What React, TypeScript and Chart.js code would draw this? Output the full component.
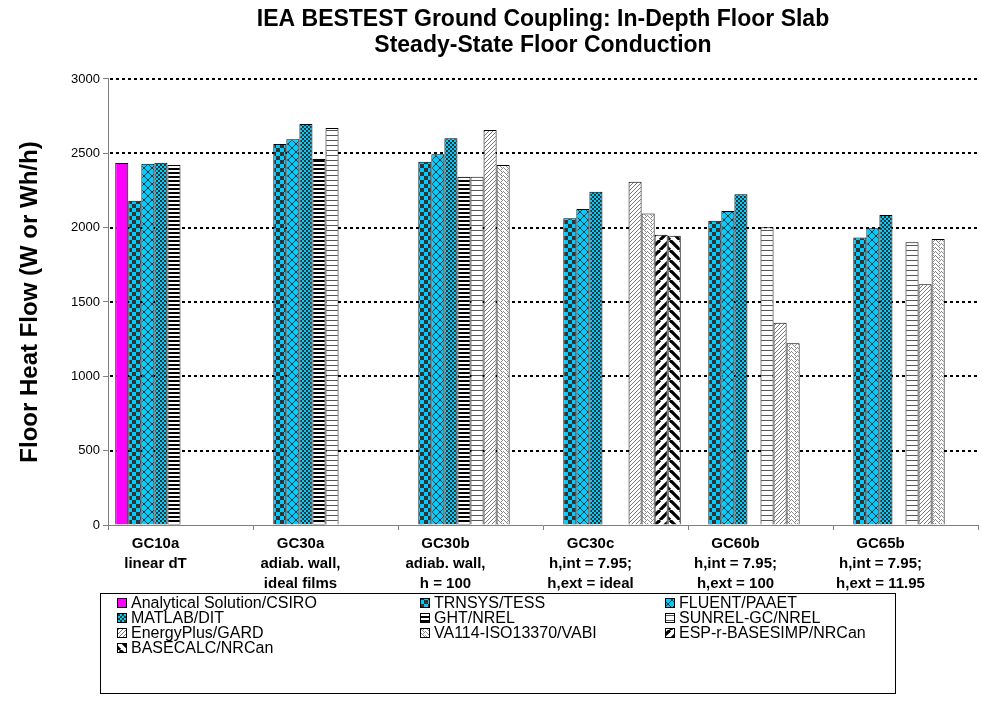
import React, { useEffect, useRef } from 'react';
import { Chart, registerables } from 'chart.js';

Chart.register(...registerables);

const categories: string[][] = [
  ['GC10a', 'linear dT'],
  ['GC30a', 'adiab. wall,', 'ideal films'],
  ['GC30b', 'adiab. wall,', 'h = 100'],
  ['GC30c', 'h,int = 7.95;', 'h,ext = ideal'],
  ['GC60b', 'h,int = 7.95;', 'h,ext = 100'],
  ['GC65b', 'h,int = 7.95;', 'h,ext = 11.95'],
];

const seriesNames = [
  'Analytical Solution/CSIRO',
  'TRNSYS/TESS',
  'FLUENT/PAAET',
  'MATLAB/DIT',
  'GHT/NREL',
  'SUNREL-GC/NREL',
  'EnergyPlus/GARD',
  'VA114-ISO13370/VABI',
  'ESP-r-BASESIMP/NRCan',
  'BASECALC/NRCan',
];

const analytical = [2435, null, null, null, null, null];
const trnsys = [2181, 2563, 2444, 2063, 2047, 1933];
const fluent = [2430, 2594, 2493, 2126, 2112, 1996];
const matlab = [2437, 2697, 2601, 2242, 2224, 2085];
const ght = [2421, 2462, 2343, null, null, null];
const sunrel = [null, 2670, 2343, null, 2002, 1902];
const energyPlus = [null, null, 2657, 2309, 1361, 1619];
const va114 = [null, null, 2421, 2096, 1222, 1924];
const espr = [null, null, null, 1952, null, null];
const basecalc = [null, null, null, 1946, null, null];

const yMin = 0;
const yMax = 3000;
const yStep = 500;

const FONT = "'Liberation Sans', Arial, sans-serif";
const CYAN = '#00CCFF';
const DARK = '#333333';

function makePattern(w: number, h: number, draw: (c: CanvasRenderingContext2D) => void): CanvasPattern | string {
  const cv = document.createElement('canvas');
  cv.width = w;
  cv.height = h;
  const c = cv.getContext('2d')!;
  draw(c);
  const p = c.createPattern(cv, 'repeat');
  return p || '#888';
}

function buildFills(): (CanvasPattern | string)[] {
  const trn = makePattern(8, 8, (c) => {
    c.fillStyle = CYAN; c.fillRect(0, 0, 8, 8);
    c.fillStyle = DARK; c.fillRect(0, 0, 4, 4); c.fillRect(4, 4, 4, 4);
  });
  const flu = makePattern(8, 8, (c) => {
    c.fillStyle = CYAN; c.fillRect(0, 0, 8, 8);
    c.fillStyle = DARK;
    for (let i = 0; i < 8; i++) { c.fillRect(i, i, 1, 1); c.fillRect(7 - i, i, 1, 1); }
  });
  const mat = makePattern(4, 4, (c) => {
    c.fillStyle = CYAN; c.fillRect(0, 0, 4, 4);
    c.fillStyle = DARK; c.fillRect(0, 0, 2, 2); c.fillRect(2, 2, 2, 2);
  });
  const ghtP = makePattern(4, 4, (c) => {
    c.fillStyle = '#fff'; c.fillRect(0, 0, 4, 4);
    c.fillStyle = '#000'; c.fillRect(0, 0, 4, 2);
  });
  const sun = makePattern(4, 5, (c) => {
    c.fillStyle = '#fff'; c.fillRect(0, 0, 4, 5);
    c.fillStyle = '#555'; c.fillRect(0, 0, 4, 1);
  });
  const ep = makePattern(4, 4, (c) => {
    c.fillStyle = '#fff'; c.fillRect(0, 0, 4, 4);
    c.fillStyle = '#777';
    for (let i = 0; i < 4; i++) c.fillRect(3 - i, i, 1, 1);
  });
  const va = makePattern(6, 4, (c) => {
    c.fillStyle = '#fff'; c.fillRect(0, 0, 6, 4);
    c.fillStyle = '#8a8a8a';
    c.fillRect(0, 0, 1, 1); c.fillRect(1, 1, 1, 1); c.fillRect(2, 2, 1, 1);
    c.fillRect(3, 1, 1, 1); c.fillRect(4, 0, 1, 1);
    c.fillRect(3, 3, 1, 1); c.fillRect(5, 3, 1, 1);
  });
  const esp = makePattern(10, 10, (c) => {
    c.fillStyle = '#fff'; c.fillRect(0, 0, 10, 10);
    c.strokeStyle = '#000'; c.lineWidth = 3.2;
    for (let k = -10; k <= 20; k += 10) {
      c.beginPath(); c.moveTo(k, 10); c.lineTo(k + 10, 0); c.stroke();
    }
  });
  const bas = makePattern(10, 10, (c) => {
    c.fillStyle = '#fff'; c.fillRect(0, 0, 10, 10);
    c.strokeStyle = '#000'; c.lineWidth = 3.2;
    for (let k = -10; k <= 20; k += 10) {
      c.beginPath(); c.moveTo(k, 0); c.lineTo(k + 10, 10); c.stroke();
    }
  });
  return ['#FF00FF', trn, flu, mat, ghtP, sun, ep, va, esp, bas];
}

const gridPlugin = {
  id: 'dottedGrid',
  beforeDatasetsDraw(chart: any) {
    const y = chart.scales.y;
    const { left, right } = chart.chartArea;
    const ctx = chart.ctx;
    ctx.save();
    ctx.strokeStyle = '#000';
    ctx.lineWidth = 2;
    ctx.setLineDash([3, 3]);
    for (let v = yMin + yStep; v <= yMax; v += yStep) {
      const py = Math.round(y.getPixelForValue(v));
      ctx.beginPath();
      ctx.moveTo(left + 2, py);
      ctx.lineTo(right, py);
      ctx.stroke();
    }
    ctx.restore();
  },
};

function makeLegendPlugin(fills: (CanvasPattern | string)[]) {
  return {
    id: 'boxLegend',
    afterDraw(chart: any) {
      const ctx = chart.ctx;
      ctx.save();
      ctx.strokeStyle = '#000';
      ctx.lineWidth = 1;
      ctx.setLineDash([]);
      ctx.strokeRect(100.5, 593.5, 795, 100);
      const cols = [117, 420, 665];
      const rows = [603, 618, 633, 648];
      ctx.font = `16px ${FONT}`;
      ctx.textBaseline = 'middle';
      ctx.textAlign = 'left';
      seriesNames.forEach((name, i) => {
        const cx = cols[i % 3];
        const cy = rows[Math.floor(i / 3)];
        ctx.fillStyle = fills[i] as any;
        ctx.fillRect(cx, cy - 5, 10, 10);
        ctx.strokeStyle = '#000';
        ctx.strokeRect(cx + 0.5, cy - 4.5, 9, 9);
        ctx.fillStyle = '#000';
        ctx.fillText(name, cx + 14, cy + 1);
      });
      ctx.restore();
    },
  };
}

export default function App() {
  const ref = useRef<HTMLCanvasElement | null>(null);

  useEffect(() => {
    document.body.style.margin = '0';
    const fills = buildFills();
    const dataArrays = [analytical, trnsys, fluent, matlab, ght, sunrel, energyPlus, va114, espr, basecalc];
    const datasets = dataArrays.map((d, i) => ({
      label: seriesNames[i],
      data: d,
      backgroundColor: fills[i] as any,
      borderColor: '#000',
      borderWidth: 1,
      barPercentage: 1.0,
      categoryPercentage: 0.9,
    }));

    const chart = new Chart(ref.current!, {
      type: 'bar',
      data: { labels: categories as any, datasets: datasets as any },
      options: {
        animation: false,
        responsive: false,
        maintainAspectRatio: false,
        layout: { padding: { left: 0, right: 4, top: 0, bottom: 109 } },
        plugins: {
          legend: { display: false },
          tooltip: { enabled: false },
          title: {
            display: true,
            fullSize: false,
            text: ['IEA BESTEST Ground Coupling: In-Depth Floor Slab', 'Steady-State Floor Conduction'],
            color: '#000',
            font: { family: FONT, size: 23, weight: 'bold', lineHeight: 1.13 },
            padding: { top: 7, bottom: 20 },
          },
        },
        scales: {
          x: {
            grid: { display: true, drawOnChartArea: false, drawTicks: true, tickLength: 5, tickColor: '#808080', tickWidth: 1 },
            border: { display: true, color: '#808080', width: 1 },
            ticks: {
              color: '#000',
              font: { family: FONT, size: 15, weight: 'bold', lineHeight: 1.33 },
              padding: 4,
              labelOffset: -25,
              maxRotation: 0,
              autoSkip: false,
            },
            afterFit: (s: any) => { s.height = 70; },
          },
          y: {
            min: yMin,
            max: yMax,
            ticks: {
              stepSize: yStep,
              color: '#000',
              font: { family: FONT, size: 13 },
              padding: 3,
              callback: (v: any) => String(v),
            },
            grid: { display: true, drawOnChartArea: false, drawTicks: true, tickLength: 5, tickColor: '#808080', tickWidth: 1 },
            border: { display: true, color: '#808080', width: 1 },
            title: {
              display: true,
              text: 'Floor Heat Flow (W or Wh/h)',
              color: '#000',
              font: { family: FONT, size: 24, weight: 'bold' },
              padding: { top: 16, bottom: 0 },
            },
            afterFit: (s: any) => { s.width = 108; },
          },
        },
      },
      plugins: [gridPlugin, makeLegendPlugin(fills)],
    } as any);
    return () => chart.destroy();
  }, []);

  return (
    <div style={{ position: 'absolute', left: 0, top: 0, width: 982, height: 704, background: '#fff' }}>
      <canvas ref={ref} width={982} height={704} style={{ width: 982, height: 704 }} />
    </div>
  );
}
